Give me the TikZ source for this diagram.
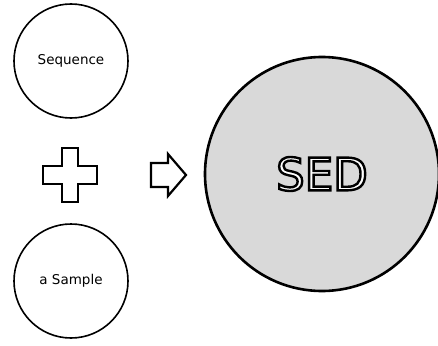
\documentclass[tikz,border=0pt]{standalone}
\usepackage{fontspec}
\setmainfont{DejaVu Sans}
\newcommand{\outlinedtext}[1]{\special{pdf:literal direct q 2 Tr 2.4 w 1 g 0 G}#1\special{pdf:literal direct Q}}
\begin{document}
\begin{tikzpicture}[x=1pt,y=-1pt,
  small/.style={circle,draw=black,line width=1.6pt,minimum size=114pt,inner sep=0pt,font=\fontsize{13.5}{15}\selectfont},
  big/.style={circle,draw=black,line width=2.6pt,fill=gray!30,minimum size=234pt,inner sep=0pt},
  block/.style={draw=black,line width=2.2pt,fill=white,line join=miter}]
\useasboundingbox (0,0) rectangle (438,345);
\node[small] (top) at (71,61) {Sequence};
\node[small] (bot) at (71,281) {a Sample};
\node[big] (sed) at (322,174) {\fontsize{45}{50}\selectfont\outlinedtext{SED}};
% plus sign
\coordinate (pc) at (70,175);
\draw[block] ([shift={(-8,-27)}]pc) -- ([shift={(8,-27)}]pc) -- ([shift={(8,-9)}]pc) -- ([shift={(27,-9)}]pc)
  -- ([shift={(27,9)}]pc) -- ([shift={(8,9)}]pc) -- ([shift={(8,27)}]pc) -- ([shift={(-8,27)}]pc)
  -- ([shift={(-8,9)}]pc) -- ([shift={(-27,9)}]pc) -- ([shift={(-27,-9)}]pc) -- ([shift={(-8,-9)}]pc) -- cycle;
% block arrow
\coordinate (ac) at (168,175);
\draw[block] ([shift={(-17,-12)}]ac) -- ([shift={(0,-12)}]ac) -- ([shift={(0,-21)}]ac) -- ([shift={(18,0)}]ac)
  -- ([shift={(0,21)}]ac) -- ([shift={(0,12)}]ac) -- ([shift={(-17,12)}]ac) -- cycle;
\end{tikzpicture}
\end{document}
